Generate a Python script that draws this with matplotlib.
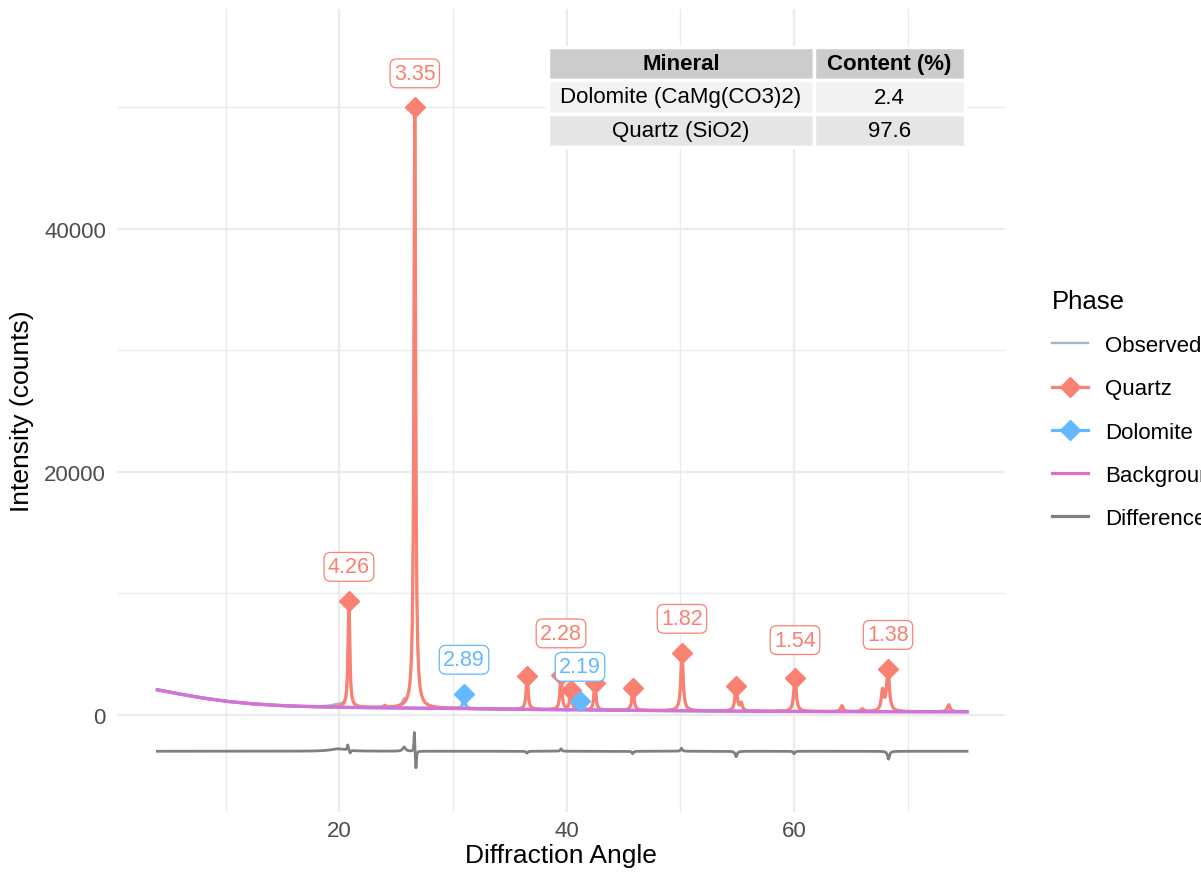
import numpy as np
import matplotlib.pyplot as plt
from matplotlib.lines import Line2D
from matplotlib.patches import Rectangle

plt.rcParams['font.family'] = ['Liberation Sans', 'DejaVu Sans']

# scan range, degrees 2-theta
scan_start = 4.0
scan_end = 75.2
scan_step = 0.01

# background counts at anchor angles
bg_angles = [4, 6, 8, 10, 12, 14, 16, 18, 20, 25, 30, 35, 40, 45, 50, 55, 60, 65, 70, 75.2]
bg_counts = [2060, 1700, 1380, 1120, 930, 800, 710, 660, 620, 560, 520, 460, 410, 370, 330, 300, 275, 260, 255, 250]

# quartz reflections with markers (angle, peak counts, half width)
quartz_pos = [20.85, 26.64, 36.52, 39.50, 40.37, 42.48, 45.83, 50.14, 54.90, 60.08, 68.26]
quartz_int = [9380, 50000, 3200, 3300, 2060, 2630, 2220, 5100, 2390, 3050, 3780]
quartz_hw = [0.09, 0.09, 0.10, 0.10, 0.10, 0.10, 0.11, 0.12, 0.12, 0.13, 0.14]

# weaker quartz reflections, no markers
quartz_minor_pos = [24.0, 55.35, 64.2, 66.0, 67.78, 73.6]
quartz_minor_int = [720, 900, 740, 480, 1900, 820]
quartz_minor_hw = [0.10, 0.12, 0.13, 0.13, 0.13, 0.14]

# dolomite reflections
dolomite_pos = [30.97, 41.17]
dolomite_int = [1730, 1150]
dolomite_hw = [0.09, 0.10]

# d-spacing labels (angle, text, phase)
label_pos = [20.85, 26.64, 39.50, 50.14, 60.08, 68.26, 30.97, 41.17]
label_text = ['4.26', '3.35', '2.28', '1.82', '1.54', '1.38', '2.89', '2.19']
label_phase = ['Quartz'] * 6 + ['Dolomite'] * 2
label_nudge = {'2.28': 600, '1.54': 300}

# residual features of the fit (angle, counts, half width)
resid_pos = [19.9, 20.75, 20.95, 25.7, 26.60, 26.74, 36.5, 39.5, 45.8, 50.1, 54.9, 60.0, 68.3]
resid_amp = [200, 450, -250, 350, 1700, -1500, -150, 200, -200, 250, -450, -200, -650]
resid_hw = [0.8, 0.06, 0.06, 0.15, 0.04, 0.05, 0.08, 0.08, 0.08, 0.08, 0.10, 0.08, 0.10]
diff_offset = -3000

# phase table
minerals = ['Dolomite (CaMg(CO3)2)', 'Quartz (SiO2)']
content = [2.4, 97.6]

colors = {
    'Observed': '#A2B5CD',
    'Quartz': '#FA8072',
    'Dolomite': '#63B8FF',
    'Background': '#DA70D6',
    'Difference': '#808080',
}


def lorentz(x, center, hw):
    return 1.0 / (1.0 + ((x - center) / hw) ** 2)


def peak_sum(x, pos, inten, hw):
    out = np.zeros_like(x)
    for p, i, w in zip(pos, inten, hw):
        out += (i - np.interp(p, bg_angles, bg_counts)) * lorentz(x, p, w)
    return out


tt = np.arange(scan_start, scan_end + scan_step, scan_step)
background = np.interp(tt, bg_angles, bg_counts)
quartz = background + peak_sum(tt, quartz_pos, quartz_int, quartz_hw) \
    + peak_sum(tt, quartz_minor_pos, quartz_minor_int, quartz_minor_hw)
dolomite = background + peak_sum(tt, dolomite_pos, dolomite_int, dolomite_hw)
calc = quartz + dolomite - background

resid = np.zeros_like(tt)
for p, a, w in zip(resid_pos, resid_amp, resid_hw):
    resid += a * lorentz(tt, p, w)
observed = calc + resid
difference = diff_offset + resid

W, H = 1201, 879
fig = plt.figure(figsize=(W / 100, H / 100), dpi=100)
ax = fig.add_axes([117 / W, 1 - 813 / H, (1005 - 117) / W, (813 - 10) / H])

ax.plot(tt, observed, color=colors['Observed'], lw=1.7, zorder=3)
ax.plot(tt, quartz, color=colors['Quartz'], lw=2.3, zorder=4)
ax.plot(tt, dolomite, color=colors['Dolomite'], lw=2.3, zorder=4)
ax.plot(tt, background, color=colors['Background'], lw=2.3, zorder=5)
ax.plot(tt, difference, color=colors['Difference'], lw=2.0, zorder=5)

ax.plot(quartz_pos, quartz_int, 'D', color=colors['Quartz'], ms=10, zorder=6)
ax.plot(dolomite_pos, dolomite_int, 'D', color=colors['Dolomite'], ms=10, zorder=6)

peak_lookup = dict(zip(quartz_pos + dolomite_pos, quartz_int + dolomite_int))
for x, txt, ph in zip(label_pos, label_text, label_phase):
    y = peak_lookup[x] + 2800 + label_nudge.get(txt, 0)
    ax.text(x, y, txt, ha='center', va='center', fontsize=15.5, color=colors[ph], zorder=8,
            bbox=dict(boxstyle='round,pad=0.18,rounding_size=0.3', fc='white',
                      ec=colors[ph], lw=0.9))

ax.set_xlim(0.45, 78.55)
ax.set_ylim(-8000, 58100)
ax.set_xticks([20, 40, 60])
ax.set_xticks([10, 30, 50, 70], minor=True)
ax.set_yticks([0, 20000, 40000])
ax.set_yticks([10000, 30000, 50000], minor=True)
ax.grid(True, which='major', color='#EBEBEB', lw=1.6)
ax.grid(True, which='minor', color='#EBEBEB', lw=1.0)
ax.set_axisbelow(True)
for s in ax.spines.values():
    s.set_visible(False)
ax.tick_params(which='both', length=0, labelsize=16, labelcolor='#4D4D4D')
ax.tick_params(axis='y', pad=8)
ax.tick_params(axis='x', pad=6)
ax.set_xlabel('Diffraction Angle', fontsize=19, labelpad=1)
ax.set_ylabel('Intensity (counts)', fontsize=19, labelpad=7)

# phase table in the upper part of the panel
def px_rect(x0, y0, x1, y1, fc):
    fig.patches.append(Rectangle((x0 / W, 1 - y1 / H), (x1 - x0) / W, (y1 - y0) / H,
                                 transform=fig.transFigure, fc=fc, ec='white', lw=2.5,
                                 zorder=10))

col_edges = [548, 814, 965]
row_edges = [48, 81, 115, 148]
rows = [['Mineral', 'Content (%)']] + [[m, f'{c}'] for m, c in zip(minerals, content)]
row_fc = ['#CCCCCC', '#F2F2F2', '#E5E5E5']
for r, cells in enumerate(rows):
    for c, txt in enumerate(cells):
        x0, x1 = col_edges[c], col_edges[c + 1]
        y0, y1 = row_edges[r], row_edges[r + 1]
        px_rect(x0, y0, x1, y1, row_fc[r])
        fig.text((x0 + x1) / 2 / W, 1 - (y0 + y1) / 2 / H, txt, ha='center', va='center',
                 fontsize=16, fontweight='bold' if r == 0 else 'normal', zorder=11)

handles = [
    Line2D([], [], color=colors['Observed'], lw=1.7),
    Line2D([], [], color=colors['Quartz'], lw=2.3, marker='D', ms=10),
    Line2D([], [], color=colors['Dolomite'], lw=2.3, marker='D', ms=10),
    Line2D([], [], color=colors['Background'], lw=2.3),
    Line2D([], [], color=colors['Difference'], lw=2.3),
]
fig.legend(handles, ['Observed', 'Quartz', 'Dolomite', 'Background', 'Difference'],
           title='Phase', loc='upper left', bbox_to_anchor=(1032 / W, 1 - 270 / H),
           frameon=False, fontsize=16, title_fontsize=18.5, handlelength=1.6,
           handletextpad=0.8, labelspacing=1.0, alignment='left')

fig.savefig('out.png', dpi=100)
